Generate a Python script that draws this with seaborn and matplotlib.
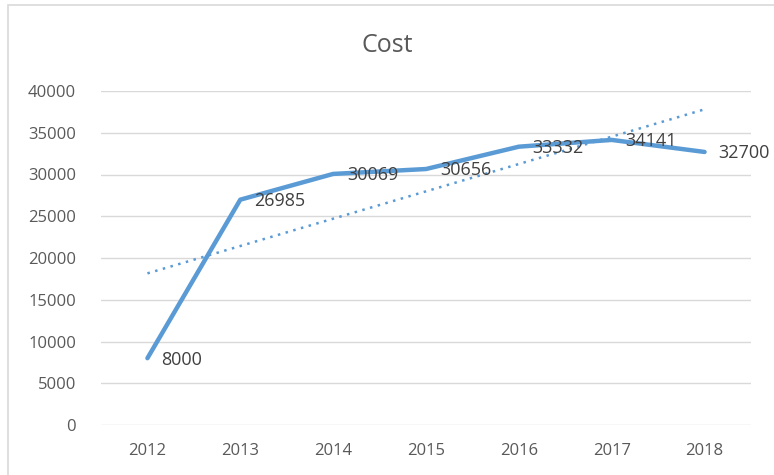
import matplotlib.pyplot as plt
import matplotlib.patches as patches
import seaborn as sns
import pandas as pd
import numpy as np

years = ['2012', '2013', '2014', '2015', '2016', '2017', '2018']
cost = [8000, 26985, 30069, 30656, 33332, 34141, 32700]

sns.set_theme(style='white')
plt.rcParams['font.family'] = ['Open Sans', 'DejaVu Sans']

df = pd.DataFrame({'year': years, 'cost': cost})
df['pos'] = range(len(df))

fig = plt.figure(figsize=(7.74, 4.75), dpi=100)
ax = fig.add_axes([101 / 774, 1 - 425 / 475, 650 / 774, (425 - 91) / 475])

blue = '#5B9BD5'
sns.lineplot(data=df, x='pos', y='cost', ax=ax, color=blue, linewidth=3.2,
             solid_capstyle='round', solid_joinstyle='round')

# linear trendline, like Excel's
slope, intercept = np.polyfit(df['pos'], df['cost'], 1)
trend = slope * df['pos'] + intercept
ax.plot(df['pos'], trend, color=blue, linewidth=1.8, linestyle=(0, (1, 2.2)))

for p, v in zip(df['pos'], df['cost']):
    ax.annotate(str(v), (p, v), xytext=(10, -1), textcoords='offset points',
                ha='left', va='center', fontsize=13, color='#404040')

ax.set_xlim(-0.5, len(years) - 0.5)
ax.set_ylim(0, 40000)
ax.set_yticks(range(0, 40001, 5000))
ax.set_xticks(df['pos'])
ax.set_xticklabels(years)
ax.yaxis.grid(True, color='#D9D9D9', linewidth=1)
ax.set_axisbelow(True)
for s in ax.spines.values():
    s.set_visible(False)
ax.tick_params(axis='both', length=0, labelsize=12, colors='#595959')
ax.tick_params(axis='y', pad=18)
ax.tick_params(axis='x', pad=13)
ax.set_xlabel('')
ax.set_ylabel('')

fig.text(0.5, 1 - 45 / 475, 'Cost', ha='center', va='center', fontsize=18, color='#595959')

# chart border
fig.patches.append(patches.Rectangle((8 / 774, -0.1), 1.2, 1.1 - 5 / 475,
                                     transform=fig.transFigure, fill=False,
                                     edgecolor='#D9D9D9', linewidth=1.2))

fig.savefig('out.png', dpi=100)
plt.close(fig)
